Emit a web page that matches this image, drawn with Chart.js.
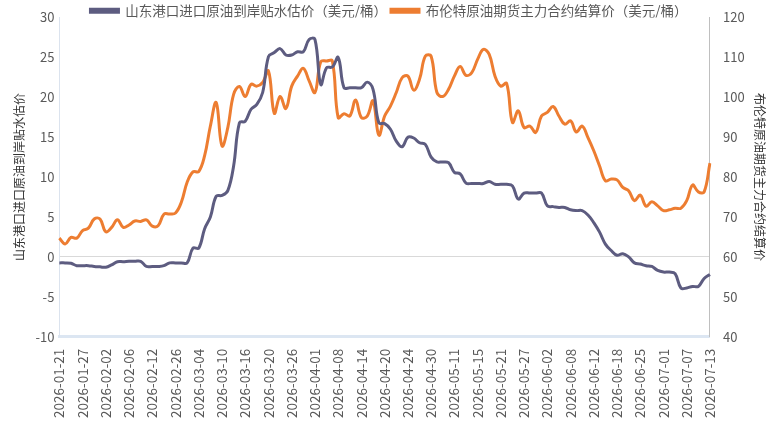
<!DOCTYPE html>
<html>
<head>
<meta charset="utf-8">
<script src="https://cdn.jsdelivr.net/npm/chart.js@4/dist/chart.umd.min.js"></script>
<style>
  html, body { margin: 0; padding: 0; background: #fff; }
  #wrap { width: 770px; height: 442px; position: relative; }
</style>
</head>
<body>
<div id="wrap"><canvas id="chart"></canvas></div>
<script>
// trading days shown on the x axis
const dates = [
  '2026-01-21','2026-01-22','2026-01-23','2026-01-26','2026-01-27','2026-01-28','2026-01-29','2026-01-30',
  '2026-02-02','2026-02-03','2026-02-04','2026-02-05','2026-02-06','2026-02-09','2026-02-10','2026-02-11',
  '2026-02-12','2026-02-13','2026-02-24','2026-02-25','2026-02-26','2026-02-27',
  '2026-03-02','2026-03-03','2026-03-04','2026-03-05','2026-03-06','2026-03-09','2026-03-10','2026-03-11',
  '2026-03-12','2026-03-13','2026-03-16','2026-03-17','2026-03-18','2026-03-19','2026-03-20','2026-03-23',
  '2026-03-24','2026-03-25','2026-03-26','2026-03-27','2026-03-30','2026-03-31',
  '2026-04-01','2026-04-02','2026-04-03','2026-04-07','2026-04-08','2026-04-09','2026-04-10','2026-04-13',
  '2026-04-14','2026-04-15','2026-04-16','2026-04-17','2026-04-20','2026-04-21','2026-04-22','2026-04-23',
  '2026-04-24','2026-04-27','2026-04-28','2026-04-29','2026-04-30',
  '2026-05-06','2026-05-07','2026-05-08','2026-05-11','2026-05-12','2026-05-13','2026-05-14','2026-05-15',
  '2026-05-18','2026-05-19','2026-05-20','2026-05-21','2026-05-22','2026-05-25','2026-05-26','2026-05-27',
  '2026-05-28','2026-05-29',
  '2026-06-01','2026-06-02','2026-06-03','2026-06-04','2026-06-05','2026-06-08','2026-06-09','2026-06-10',
  '2026-06-11','2026-06-12','2026-06-15','2026-06-16','2026-06-17','2026-06-18','2026-06-22','2026-06-23',
  '2026-06-24','2026-06-25','2026-06-26','2026-06-29','2026-06-30',
  '2026-07-01','2026-07-02','2026-07-03','2026-07-06','2026-07-07','2026-07-08','2026-07-09','2026-07-10',
  '2026-07-13'
];

// 山东港口进口原油到岸贴水估价 (left axis)
const premium = [
  -0.75, -0.75, -0.8, -1.1, -1.1, -1.1, -1.2, -1.25, -1.3, -1.0,
  -0.6, -0.6, -0.55, -0.55, -0.55, -1.2, -1.2, -1.2, -1.1, -0.75,
  -0.75, -0.75, -0.75, 1.1, 1.1, 3.5, 5.0, 7.6, 7.7, 8.3,
  11.4, 16.8, 17.0, 18.5, 19.1, 20.6, 25.1, 25.6, 26.1, 25.3,
  25.3, 25.7, 25.7, 27.25, 27.25, 21.6, 23.7, 23.8, 25.0, 21.2,
  21.2, 21.2, 21.2, 21.9, 21.0, 16.8, 16.7, 16.0, 14.5, 13.8,
  15.0, 14.9, 14.3, 14.1, 12.5, 11.9, 11.9, 11.8, 10.6, 10.4,
  9.25, 9.2, 9.2, 9.2, 9.45, 9.1, 9.1, 9.1, 8.9, 7.25,
  8.0, 8.0, 8.0, 8.0, 6.4, 6.3, 6.2, 6.2, 5.9, 5.8,
  5.8, 5.25, 4.3, 3.1, 1.6, 0.8, 0.2, 0.4, 0.0, -0.75,
  -0.9, -1.1, -1.2, -1.7, -1.9, -1.9, -2.1, -3.9, -3.9, -3.7,
  -3.7, -2.7, -2.2
];

// 布伦特原油期货主力合约结算价 (right axis)
const brent = [
  64.7, 63.25, 64.9, 64.7, 66.6, 67.2, 69.5, 69.5, 66.3, 67.4,
  69.3, 67.4, 68.0, 69.0, 68.9, 69.3, 67.7, 67.8, 70.7, 70.75,
  71.0, 73.7, 78.7, 81.3, 81.4, 85.3, 92.8, 98.7, 87.8, 92.4,
  100.75, 102.7, 100.2, 103.25, 102.8, 103.7, 106.6, 96.0, 100.2, 97.2,
  102.8, 105.3, 107.25, 104.1, 101.2, 108.9, 109.1, 109.1, 94.9, 95.9,
  95.3, 99.3, 94.9, 95.3, 99.1, 90.5, 95.3, 97.8, 101.2, 104.9,
  105.3, 101.8, 104.5, 110.3, 110.3, 101.2, 100.2, 102.0, 105.3, 107.7,
  105.5, 106.2, 109.5, 112.0, 110.75, 105.3, 102.8, 103.5, 93.7, 96.6,
  92.4, 92.8, 91.2, 95.3, 96.2, 97.7, 95.3, 93.25, 94.1, 91.3,
  92.8, 89.9, 86.6, 82.8, 79.1, 79.5, 79.3, 77.4, 76.6, 74.1,
  75.5, 72.7, 73.8, 72.8, 71.6, 71.8, 72.2, 72.2, 74.1, 78.0,
  76.3, 76.3, 83.5
];

const FONT = '"Noto Sans CJK SC", "Microsoft YaHei", sans-serif';
const TEXT = '#595959';

// the legend sits close over the plot, so trim the room it asks for
const tightLegend = {
  id: 'tightLegend',
  beforeInit(chart) {
    const fit = chart.legend.fit;
    chart.legend.fit = function () {
      fit.call(this);
      this.height -= 10;
    };
  }
};

const ctx = document.getElementById('chart').getContext('2d');
new Chart(ctx, {
  type: 'line',
  data: {
    labels: dates,
    datasets: [
      {
        label: '山东港口进口原油到岸贴水估价（美元/桶）',
        data: premium,
        yAxisID: 'y',
        borderColor: '#5d5c80',
        backgroundColor: '#5d5c80',
        borderWidth: 3,
        pointRadius: 0,
        tension: 0.4,
        fill: false
      },
      {
        label: '布伦特原油期货主力合约结算价（美元/桶）',
        data: brent,
        yAxisID: 'y1',
        borderColor: '#ed7d31',
        backgroundColor: '#ed7d31',
        borderWidth: 3,
        pointRadius: 0,
        tension: 0.4,
        fill: false
      }
    ]
  },
  plugins: [tightLegend],
  options: {
    responsive: true,
    maintainAspectRatio: false,
    animation: false,
    layout: { padding: { top: 0, left: 8, right: 0, bottom: 20 } },
    plugins: {
      legend: {
        display: true,
        position: 'top',
        labels: {
          boxWidth: 28,
          boxHeight: 3,
          padding: 4,
          color: TEXT,
          font: { family: FONT, size: 13.5 }
        }
      },
      tooltip: { enabled: false }
    },
    scales: {
      x: {
        grid: { display: false },
        border: { color: '#dce6f2', width: 3 },
        ticks: {
          autoSkip: false,
          minRotation: 90,
          maxRotation: 90,
          padding: 4,
          color: TEXT,
          font: { family: FONT, size: 13.5 },
          callback: function (val, i) {
            return i % 4 === 0 ? this.getLabelForValue(val) : null;
          }
        }
      },
      y: {
        position: 'left',
        min: -10,
        max: 30,
        ticks: { stepSize: 5, padding: 5, color: TEXT, font: { family: FONT, size: 13 } },
        grid: {
          drawTicks: false,
          color: ctx => (ctx.tick && ctx.tick.value === 0 ? '#d9d9d9' : 'rgba(0,0,0,0)')
        },
        border: { color: '#dbe3ee', width: 1 },
        title: {
          display: true,
          text: '山东港口进口原油到岸贴水估价',
          color: '#333333',
          font: { family: FONT, size: 12 },
          padding: 4
        }
      },
      y1: {
        position: 'right',
        min: 40,
        max: 120,
        ticks: { stepSize: 10, padding: 5, color: TEXT, font: { family: FONT, size: 13 } },
        grid: { display: false },
        border: { color: '#bfbfbf', width: 1 },
        title: {
          display: true,
          text: '布伦特原油期货主力合约结算价',
          color: '#333333',
          font: { family: FONT, size: 12 },
          padding: 3
        }
      }
    }
  }
});
</script>
</body>
</html>
